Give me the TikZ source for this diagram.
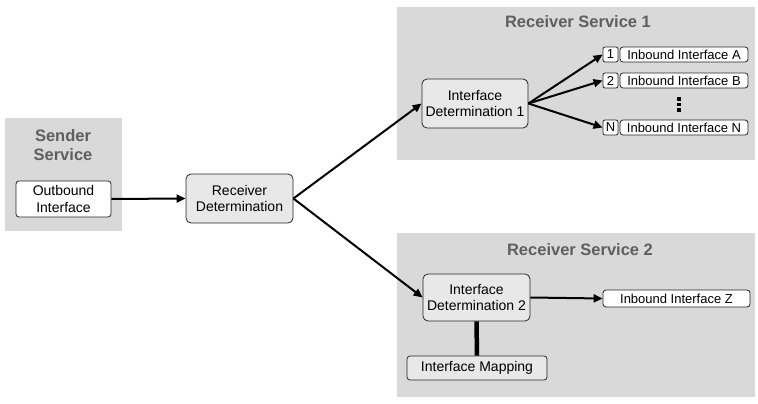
\documentclass[tikz,border=0pt]{standalone}
\usepackage{fontspec}
\setmainfont{Liberation Sans}
\usetikzlibrary{arrows.meta}
\definecolor{panelgray}{HTML}{D9D9D9}
\definecolor{boxgray}{HTML}{E8E8E8}
\definecolor{titlegray}{HTML}{5F5F5F}
\begin{document}
\begin{tikzpicture}[x=1pt,y=-1pt,
  panel/.style={fill=panelgray,draw=none},
  ptitle/.style={font=\fontsize{16.5}{19}\selectfont\bfseries,text=titlegray,align=center,inner sep=0pt},
  detbox/.style={draw=black!85,fill=boxgray,rounded corners=5pt,line width=0.8pt,align=center,font=\fontsize{14}{16.5}\selectfont,inner sep=0pt},
  ifbox/.style={draw=black!85,fill=white,rounded corners=3pt,line width=0.8pt,align=center,font=\fontsize{13}{15}\selectfont,inner sep=0pt},
  conn/.style={line width=2pt,-{Triangle[length=9pt,width=8pt]}},
  every node/.style={anchor=center}]
\useasboundingbox (0,0) rectangle (758,404);
% panels
\fill[panel] (5,118) rectangle (122,231);
\fill[panel] (397,7) rectangle (755,160);
\fill[panel] (397,233) rectangle (755,397);
% titles
\node[ptitle] (tsend) at (63,145) {Sender\\Service};
\node[ptitle] (tr1) at (578,22) {Receiver Service 1};
\node[ptitle] (tr2) at (580,250) {Receiver Service 2};
% nodes
\node[ifbox,font=\fontsize{14}{16.5}\selectfont,minimum width=95pt,minimum height=36pt] (out) at (63.5,199) {Outbound\\Interface};
\node[detbox,minimum width=107pt,minimum height=49pt] (rd) at (239.5,198.5) {Receiver\\Determination};
\node[detbox,minimum width=106pt,minimum height=49pt] (id1) at (475,103.5) {Interface\\Determination 1};
\node[detbox,minimum width=107pt,minimum height=47pt] (id2) at (476.5,297.5) {Interface\\Determination 2};
\node[detbox,rounded corners=3pt,minimum width=140pt,minimum height=24pt] (map) at (477,368) {Interface Mapping};
% inbound interfaces RS1
\node[ifbox,rounded corners=2pt,minimum width=15pt,minimum height=15pt] (n1) at (610.5,54.5) {1};
\node[ifbox,minimum width=128pt,minimum height=15pt] (ia) at (684,54.5) {Inbound Interface A};
\node[ifbox,rounded corners=2pt,minimum width=15pt,minimum height=15pt] (n2) at (610.5,80.5) {2};
\node[ifbox,minimum width=128pt,minimum height=15pt] (ib) at (684,80.5) {Inbound Interface B};
\node[ifbox,rounded corners=2pt,minimum width=15pt,minimum height=15pt] (nn) at (610.5,127.5) {N};
\node[ifbox,minimum width=128pt,minimum height=15pt] (in) at (684,127.5) {Inbound Interface N};
\fill (677,97) rectangle (681,100.5);
\fill (677,102.5) rectangle (681,106);
\fill (677,108) rectangle (681,111.5);
\node[ifbox,minimum width=147pt,minimum height=17pt] (iz) at (676.5,298.5) {Inbound Interface Z};
% connectors
\draw[conn] (out.east) -- (rd.west);
\draw[conn] (rd.east) -- (id1.west);
\draw[conn] (rd.east) -- (id2.west);
\draw[conn] (id1.east) -- (n1.west);
\draw[conn] (id1.east) -- (n2.west);
\draw[conn] (id1.east) -- (nn.west);
\draw[conn] (id2.east) -- (iz.west);
\draw[line width=4.5pt] (id2.south) -- (map.north);
\end{tikzpicture}
\end{document}
